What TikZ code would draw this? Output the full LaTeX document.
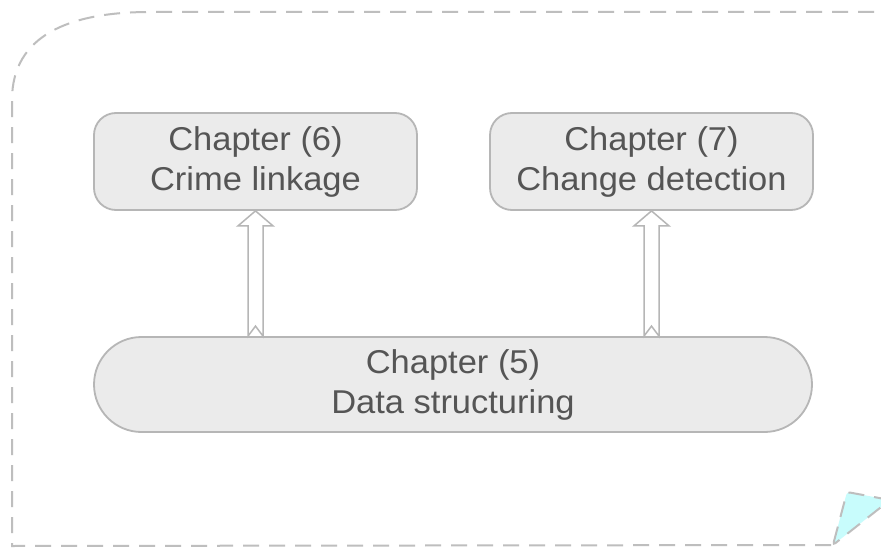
\documentclass[tikz,border=0pt]{standalone}
\usepackage{fontspec}
\setmainfont{Liberation Sans}[FakeStretch=1.045]
\usetikzlibrary{calc}
\definecolor{boxfill}{RGB}{235,235,235}
\definecolor{boxline}{RGB}{182,182,182}
\definecolor{txt}{RGB}{85,85,85}
\definecolor{frameline}{RGB}{190,190,190}
\definecolor{curl}{RGB}{200,252,252}

% hollow block arrow pointing up, from a tail point to a head point
\newcommand\hollowup[2]{%
  \path[hollow] let \p1=(#1), \p2=(#2) in
    (\x2-7.5pt,\y1) -- (\x2-7.5pt,\y2-15pt) -- (\x2-17.5pt,\y2-15pt)
    -- (\x2,\y2) -- (\x2+17.5pt,\y2-15pt) -- (\x2+7.5pt,\y2-15pt)
    -- (\x2+7.5pt,\y1) -- (\x2,\y1+10pt) -- cycle;}

\begin{document}
\begin{tikzpicture}[x=1pt,y=-1pt,
  chapbox/.style={draw=boxline, fill=boxfill, line width=1.8pt,
    rounded corners=22pt, minimum width=323pt, minimum height=97pt,
    align=center, text=txt, font=\fontsize{33pt}{40pt}\selectfont,
    inner sep=0pt},
  basebox/.style={chapbox, rounded corners=47.5pt, minimum width=718pt,
    minimum height=95pt},
  framedash/.style={draw=frameline, line width=2pt,
    dash pattern=on 16pt off 10pt},
  hollow/.style={draw=boxline, fill=white, line width=1.5pt,
    line join=miter}]
\useasboundingbox (0,0) rectangle (881,548);
\fill[white] (0,0) rectangle (881,548);

% dashed outer frame with folded corner
\begin{scope}
  \clip (0,0) rectangle (881,548);
  \path[framedash] (900,12) -- (150,12)
    .. controls (70,12) and (12,35) .. (12,100) -- (12,546) -- (833,545);
  \path[framedash, fill=curl, rounded corners=3pt]
    (833,545) -- (847,492) -- (890,500) -- cycle;
\end{scope}

% chapter boxes
\node[chapbox] (c6) at (255.5,161.5) {Chapter (6)\\Crime linkage};
\node[chapbox] (c7) at (651.5,161.5) {Chapter (7)\\Change detection};
\node[basebox] (c5) at (453,384.5) {Chapter (5)\\Data structuring};

% arrows from the base chapter up to the two others
\hollowup{c6.south |- c5.north}{c6.south}
\hollowup{c7.south |- c5.north}{c7.south}
\end{tikzpicture}
\end{document}
